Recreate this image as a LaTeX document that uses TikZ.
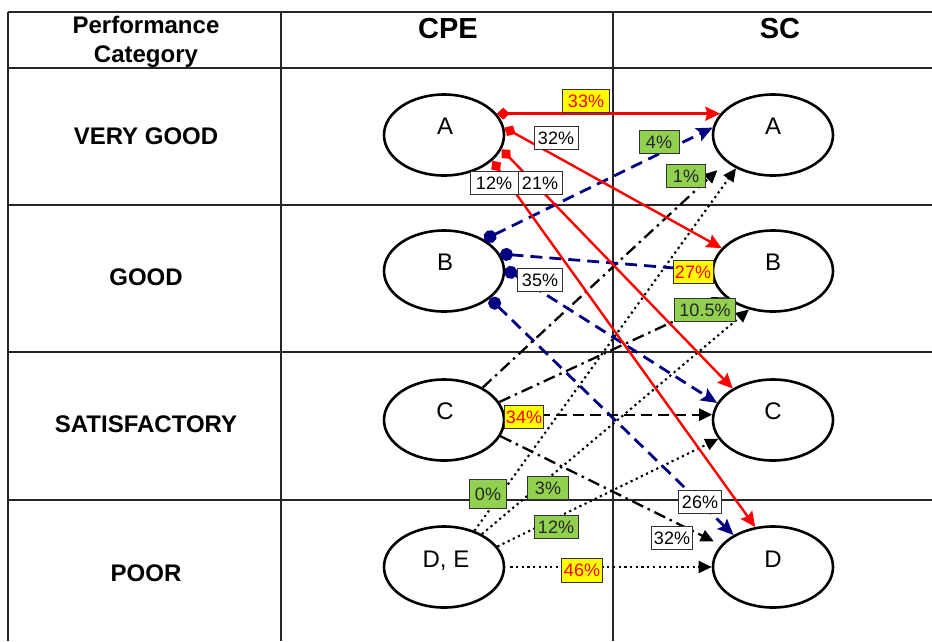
\documentclass[tikz,border=0pt]{standalone}
\usepackage{fontspec}
\setmainfont{Liberation Sans}
\usetikzlibrary{shapes.geometric,arrows.meta}
\definecolor{navyb}{HTML}{000080}
\definecolor{redl}{HTML}{FF0000}
\definecolor{yel}{HTML}{FFFF00}
\definecolor{grn}{HTML}{92D050}
\begin{document}
\begin{tikzpicture}[x=1pt,y=-1pt,
 tbl/.style={draw=black!85, line width=1.3pt},
 ell/.style={ellipse, draw, line width=2.6pt, minimum width=120pt, minimum height=81pt, inner sep=0pt},
 lett/.style={anchor=base, font=\fontsize{24}{28}\selectfont},
 rowlab/.style={anchor=base, font=\fontsize{24}{28}\selectfont\bfseries},
 hdr/.style={anchor=base, font=\fontsize{29}{33}\selectfont\bfseries},
 pct/.style={draw=black!80, line width=0.9pt, inner sep=0pt, minimum height=23pt, font=\fontsize{18}{20}\selectfont},
 wbox/.style={pct, fill=white, text=black},
 ybox/.style={pct, fill=yel, text=redl},
 gbox/.style={pct, fill=grn, text=black!85},
 redarr/.style={draw=redl, line width=2.4pt, {Diamond[length=13pt,width=12pt]}-{Stealth[length=15pt,width=14pt,inset=2pt]}},
 bluearr/.style={draw=navyb, line width=2.8pt, dash pattern=on 12pt off 7pt, {Circle[length=13pt]}-{Stealth[length=16pt,width=14pt,inset=3pt]}},
 ddarr/.style={draw=black, line width=2.3pt, dash pattern=on 12pt off 5pt on 2.5pt off 5pt, -{Triangle[length=13pt,width=12pt]}},
 dsarr/.style={draw=black, line width=2.3pt, dash pattern=on 11pt off 6pt, -{Triangle[length=13pt,width=12pt]}},
 dotarr/.style={draw=black, line width=2.1pt, dash pattern=on 2.2pt off 3.5pt, -{Triangle[length=13pt,width=12pt]}}
]
\useasboundingbox (0,0) rectangle (932,641);
\fill[white] (0,0) rectangle (932,641);
% table
\draw[tbl] (8,12) -- (932,12);
\draw[tbl] (8,68) -- (932,68);
\draw[tbl] (8,205) -- (932,205);
\draw[tbl] (8,352) -- (932,352);
\draw[tbl] (8,500) -- (932,500);
\draw[tbl] (8,12) -- (8,641);
\draw[tbl] (281,12) -- (281,641);
\draw[tbl] (613,12) -- (613,641);
% headers
\node[rowlab] (h1) at (146,33) {Performance};
\node[rowlab] (h2) at (146,62) {Category};
\node[hdr] (hc) at (448,38) {CPE};
\node[hdr] (hs) at (780,38) {SC};
\node[rowlab] (r1) at (146,144) {VERY GOOD};
\node[rowlab] (r2) at (146,285) {GOOD};
\node[rowlab] (r3) at (146,432) {SATISFACTORY};
\node[rowlab] (r4) at (146,581) {POOR};
% ellipses
\node[ell] (cA) at (444,135) {};
\node[ell] (cB) at (444,271) {};
\node[ell] (cC) at (444,420) {};
\node[ell] (cD) at (444,567) {};
\node[ell] (sA) at (773,135) {};
\node[ell] (sB) at (773,271) {};
\node[ell] (sC) at (773,420) {};
\node[ell] (sD) at (773,567) {};
\node[lett] (tcA) at (445,134) {A};
\node[lett] (tcB) at (445,270) {B};
\node[lett] (tcC) at (445,419) {C};
\node[lett] (tcD) at (446,567) {D, E};
\node[lett] (tsA) at (773,134) {A};
\node[lett] (tsB) at (773,270) {B};
\node[lett] (tsC) at (773,419) {C};
\node[lett] (tsD) at (773,567) {D};
% dotted from D,E
\draw[dotarr] (cD.50) -- (sA.222);
\draw[dotarr] (cD.41) -- (sB.238);
\draw[dotarr] (cD.21) -- (sC.199);
\draw[dotarr, shorten <=5pt] (cD.0) -- (sD.180);
% black from C
\draw[ddarr, shorten >=12pt] (cC.40) -- (sA.210);
\draw[ddarr] (cC.18) -- (sB.209);
\draw[dsarr] (cC.5) -- (sC.175);
\draw[ddarr, shorten >=8pt] (cC.-16) -- (sD.157);
% blue from B
\draw[bluearr] (cB.38) -- (sA.173);
\draw[bluearr] (cB.17) -- (sB.180);
\draw[bluearr] (cB.2) -- (sC.163);
\draw[bluearr] (cB.-31) -- (sD.141);
% red from A
\draw[redarr] (cA.22) -- (sA.158);
\draw[redarr] (cA.7) -- (sB.156);
\draw[redarr] (cA.-14) -- (sC.142);
\draw[redarr] (cA.-28) -- (sD.114);
% labels
\node[ybox, minimum width=47pt] (l33) at (586,101) {33\%};
\node[wbox, minimum width=44pt] (l32a) at (556,138) {32\%};
\node[wbox, minimum width=44pt] (l21) at (540,183) {21\%};
\node[wbox, minimum width=48pt] (l12a) at (494,183) {12\%};
\node[gbox, minimum width=40pt] (l4) at (659,142) {4\%};
\node[ybox, minimum width=40pt] (l27) at (693,272) {27\%};
\node[wbox, minimum width=45pt] (l35) at (540,280) {35\%};
\node[wbox, minimum width=43pt] (l26) at (700,502) {26\%};
\node[gbox, minimum width=39pt] (l1) at (686,176) {1\%};
\node[gbox, minimum width=61pt] (l105) at (705,310) {10.5\%};
\node[ybox, minimum width=39pt] (l34) at (524,417) {34\%};
\node[wbox, minimum width=41pt] (l32b) at (672,538) {32\%};
\node[gbox, minimum width=37pt, minimum height=29pt] (l0) at (488,494) {0\%};
\node[gbox, minimum width=41pt] (l3) at (548,488) {3\%};
\node[gbox, minimum width=44pt] (l12b) at (556,527) {12\%};
\node[ybox, minimum width=41pt, minimum height=24pt] (l46) at (582,570) {46\%};
\end{tikzpicture}
\end{document}
